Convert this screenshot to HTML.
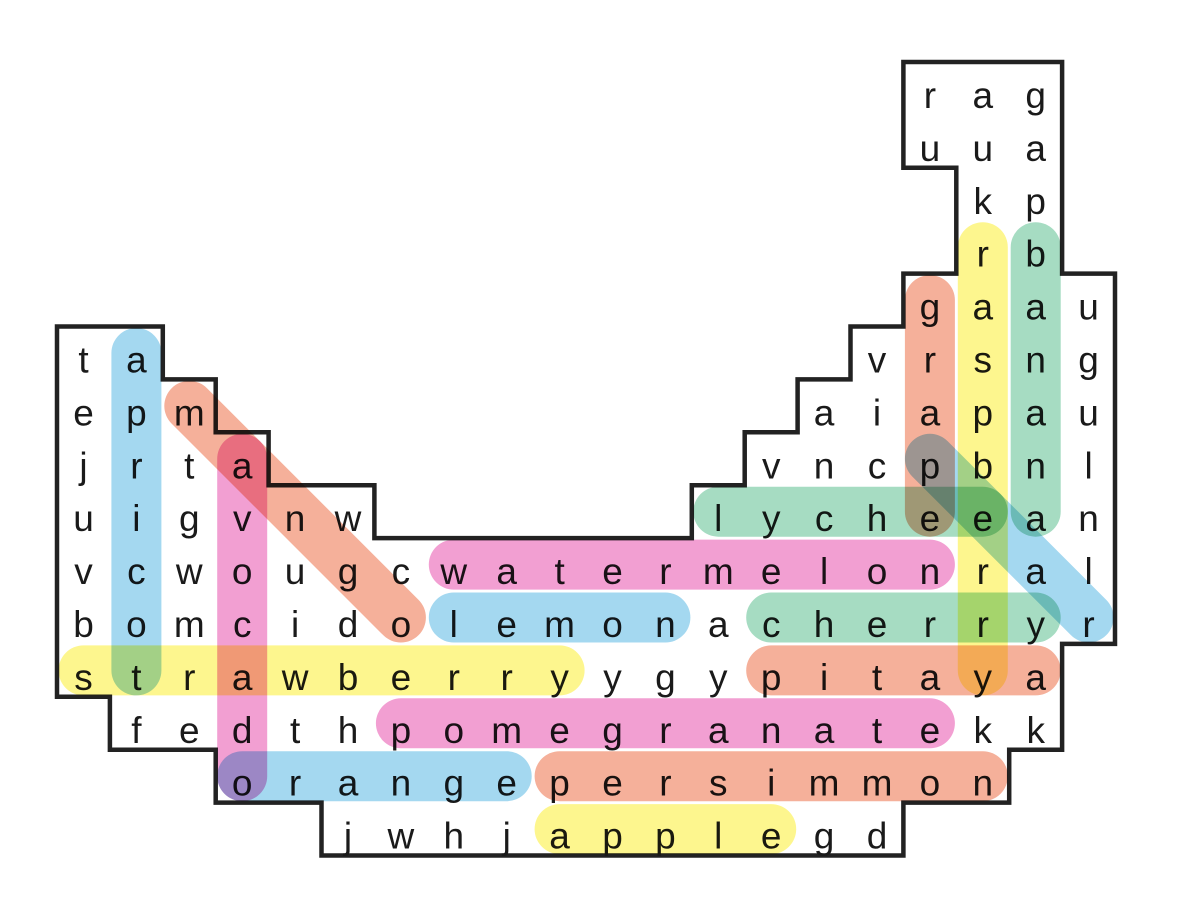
<!DOCTYPE html>
<html><head><meta charset="utf-8"><style>
html,body{margin:0;padding:0;background:#fff;}
svg{display:block;}
text{font-family:"Liberation Sans",sans-serif;font-size:37px;fill:#1a1a1a;text-anchor:middle;}
.h line{stroke-width:50;stroke-linecap:round;mix-blend-mode:multiply;}
</style></head><body>
<svg width="1178" height="920" viewBox="0 0 1178 920" xmlns="http://www.w3.org/2000/svg">
<rect width="1178" height="920" fill="#fff"/>
<path d="M57,326.5 H162.8 V379.4 H215.7 V432.3 H268.6 V485.2 H374.4 V538.1 H691.8 V485.2 H744.7 V432.3 H797.6 V379.4 H850.5 V326.5 H903.4 V273.6 H956.3 V167.8 H903.4 V62 H1062.1 V273.6 H1115 V643.9 H1062.1 V749.7 H1009.2 V802.6 H903.4 V855.5 H321.5 V802.6 H215.7 V749.7 H109.9 V696.8 H57 Z" fill="none" stroke="#222" stroke-width="4.5" stroke-linejoin="miter"/>
<g>
<text x="929.9 982.8 1035.7" y="108">rag</text>
<text x="929.9 982.8 1035.7" y="160.9">uua</text>
<text x="982.8 1035.7" y="213.8">kp</text>
<text x="982.8 1035.7" y="266.7">rb</text>
<text x="929.9 982.8 1035.7 1088.6" y="319.6">gaau</text>
<text x="83.5 136.4" y="372.5">ta</text>
<text x="877 929.9 982.8 1035.7 1088.6" y="372.5">vrsng</text>
<text x="83.5 136.4 189.3" y="425.4">epm</text>
<text x="824.1 877 929.9 982.8 1035.7 1088.6" y="425.4">aiapau</text>
<text x="83.5 136.4 189.3 242.2" y="478.3">jrta</text>
<text x="771.2 824.1 877 929.9 982.8 1035.7 1088.6" y="478.3">vncpbnl</text>
<text x="83.5 136.4 189.3 242.2 295.1 348" y="531.2">uigvnw</text>
<text x="718.3 771.2 824.1 877 929.9 982.8 1035.7 1088.6" y="531.2">lycheean</text>
<text x="83.5 136.4 189.3 242.2 295.1 348 400.9 453.8 506.7 559.6 612.5 665.4 718.3 771.2 824.1 877 929.9 982.8 1035.7 1088.6" y="584.1">vcwougcwatermelonral</text>
<text x="83.5 136.4 189.3 242.2 295.1 348 400.9 453.8 506.7 559.6 612.5 665.4 718.3 771.2 824.1 877 929.9 982.8 1035.7 1088.6" y="637">bomcidolemonacherryr</text>
<text x="83.5 136.4 189.3 242.2 295.1 348 400.9 453.8 506.7 559.6 612.5 665.4 718.3 771.2 824.1 877 929.9 982.8 1035.7" y="689.9">strawberryygypitaya</text>
<text x="136.4 189.3 242.2 295.1 348 400.9 453.8 506.7 559.6 612.5 665.4 718.3 771.2 824.1 877 929.9 982.8 1035.7" y="742.8">fedthpomegranatekk</text>
<text x="242.2 295.1 348 400.9 453.8 506.7 559.6 612.5 665.4 718.3 771.2 824.1 877 929.9 982.8" y="795.7">orangepersimmon</text>
<text x="348 400.9 453.8 506.7 559.6 612.5 665.4 718.3 771.2 824.1 877" y="848.6">jwhjapplegd</text>
</g>
<g class="h">
<!-- blue -->
<line x1="136.4" y1="353" x2="136.4" y2="670.4" stroke="#a4d8f0"/>
<line x1="453.8" y1="617.5" x2="665.4" y2="617.5" stroke="#a4d8f0"/>
<line x1="242.2" y1="776.2" x2="506.7" y2="776.2" stroke="#a4d8f0"/>
<line x1="929.9" y1="458.8" x2="1088.6" y2="617.5" stroke="#a4d8f0"/>
<!-- salmon -->
<line x1="189.3" y1="405.9" x2="400.9" y2="617.5" stroke="#f5b09a"/>
<line x1="929.9" y1="300.1" x2="929.9" y2="511.7" stroke="#f5b09a"/>
<line x1="771.2" y1="670.4" x2="1035.7" y2="670.4" stroke="#f5b09a"/>
<line x1="559.6" y1="776.2" x2="982.8" y2="776.2" stroke="#f5b09a"/>
<!-- pink -->
<line x1="242.2" y1="458.8" x2="242.2" y2="776.2" stroke="#f29fd2"/>
<line x1="453.8" y1="564.6" x2="929.9" y2="564.6" stroke="#f29fd2"/>
<line x1="400.9" y1="723.3" x2="929.9" y2="723.3" stroke="#f29fd2"/>
<!-- yellow -->
<line x1="83.5" y1="670.4" x2="559.6" y2="670.4" stroke="#fdf68e"/>
<line x1="982.8" y1="247.2" x2="982.8" y2="670.4" stroke="#fdf68e"/>
<line x1="559.6" y1="829.1" x2="771.2" y2="829.1" stroke="#fdf68e"/>
<!-- green -->
<line x1="1035.7" y1="247.2" x2="1035.7" y2="511.7" stroke="#a6dcc2"/>
<line x1="718.3" y1="511.7" x2="982.8" y2="511.7" stroke="#a6dcc2"/>
<line x1="771.2" y1="617.5" x2="1035.7" y2="617.5" stroke="#a6dcc2"/>
</g>
</svg>
</body></html>
